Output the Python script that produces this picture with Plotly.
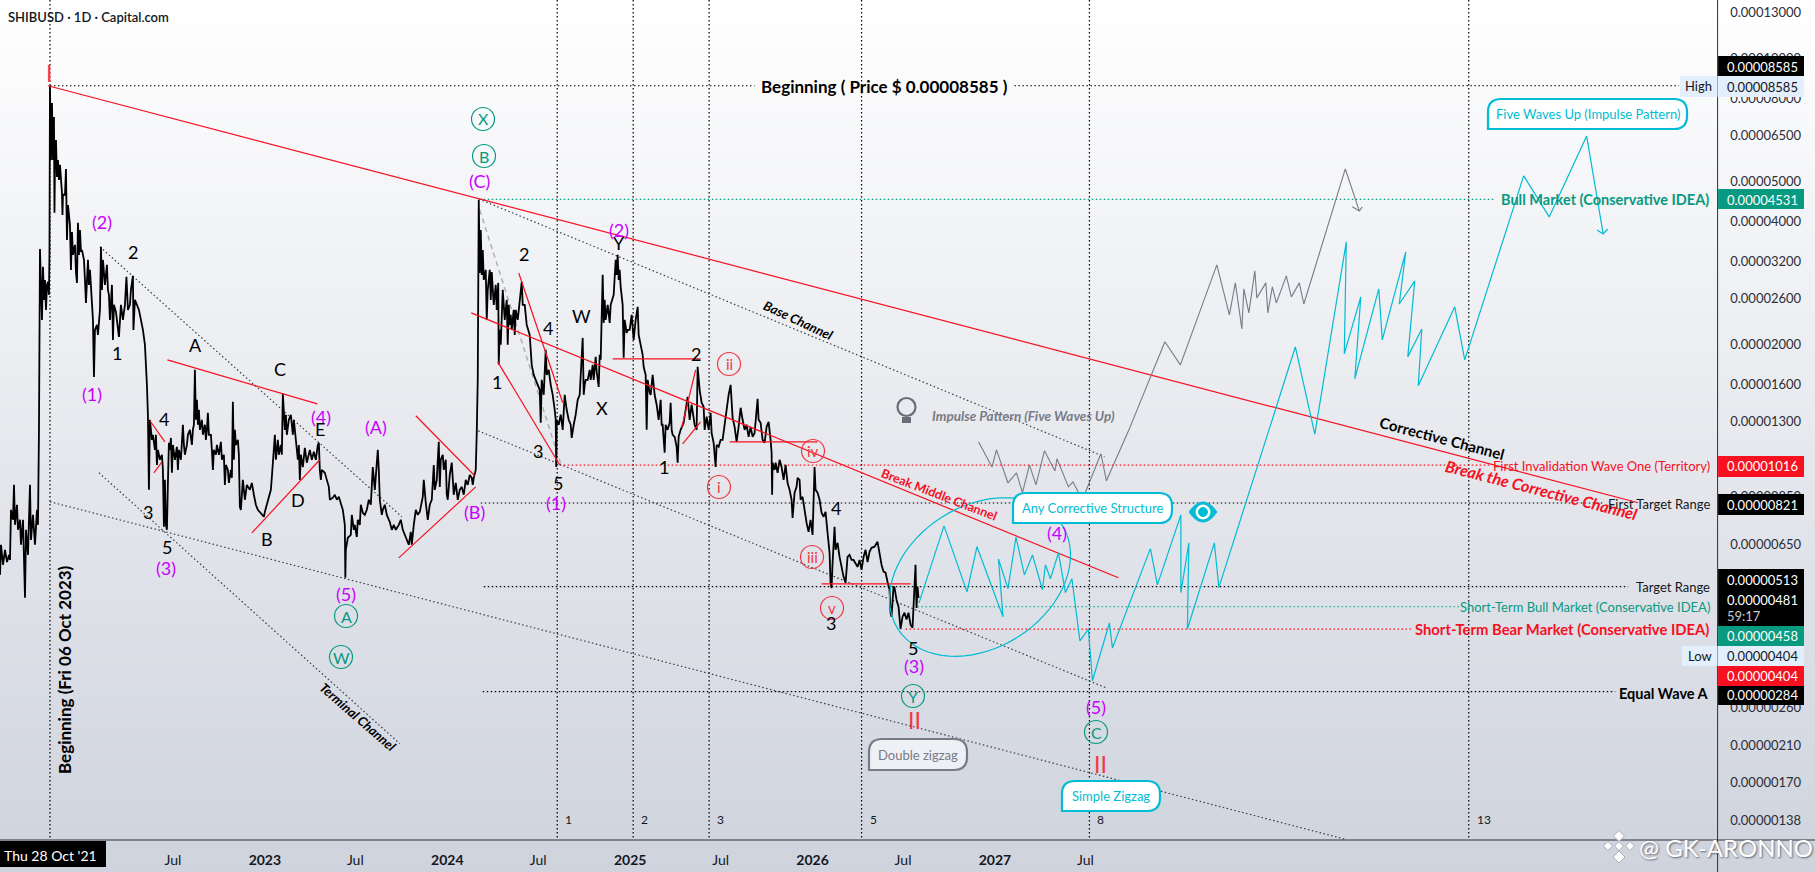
import math
import pandas as pd
import plotly.graph_objects as go

W = 1815
H = 872
AXIS_X = 1717.6
AXIS_Y = 840
BASE_DATE = pd.Timestamp("2021-07-20")
FONT = "Lato"

# daily closes/wicks: (days since BASE_DATE, price in 1e-8 USD)
rally_2021 = [(0,548),(2,649),(6,580),(10,631),(14,589),(18,613),(20,596),(22,790),(26,747),(28,909),(30,726),(34,813),
              (36,706),(40,747),(42,649),(46,747),(50,482),(52,706),(56,613),(60,909),(62,667),(66,768),(70,649),(74,790),
              (76,726),(78,1239),(80,3427),(84,2300),(86,3100),(88,2574),(90,2880),(92,2433),(94,2800),(96,2848),(98,2648),
              (99,3352),(100,8585)]
decline_2022 = [(102,5656),(104,7790),(106,5656),(108,7200),(109,4200),(110,5500),(112,6329),(114,5140),(116,5656),(118,5054),
                (120,5500),(124,4700),(125,4150),(126,4650),(130,4650),(132,5376),(134,3607),(136,4390),(140,3925),(142,3047),
                (144,3770),(146,3315),(150,3507),(152,3010),(154,2832),(156,3970),(158,3315),(160,3815),(162,3372),(164,3409),
                (168,3223),(170,2880),(172,2530),(176,3223),(178,2800),(180,3047),(182,2723),(186,2300),(188,1667),(190,2174),
                (194,2236),(196,2114),(200,2433),(202,3468),(204,2723),(206,3223),(210,2800),(214,3134),(216,2723),(218,2648),
                (220,2300),(224,2800),(226,2055),(228,2503),(232,2405),(236,2174),(238,2090),(242,2503),(246,2300),(250,2503),
                (253,2930),(256,2433),(260,2503),(262,2723),(266,2946),(267,2174),(270,2574),(274,2503),(278,2433),(282,2300),
                (286,2174),(290,2000),(292,1837),(294,1596),(296,1349),(298,884),(300,1311),(304,1171),(306,1205),(310,1107),
                (312,1205),(314,1017),(316,1107),(320,1047),(324,1077),(326,989),(328,718),(330,935),(332,726),(334,706),
                (336,919),(338,1152),(340,1107),(342,1184),(344,973),(346,1138),(350,1047),(354,1126),(356,989),(358,1107),
                (362,1047),(366,1275),(368,1138),(370,1077),(374,1138),(376,1205),(380,1239),(384,1138),(386,1239),(388,1275),
                (390,1736),(392,1311),(394,1467),(396,1275),(398,1387),(400,1239),(404,1311),(406,1205),(410,1275),(412,1171),
                (414,1239),(416,1364),(418,1205),(422,1205),(424,1107),(426,989),(428,1107),(432,1077),(434,1138),(438,1077),
                (442,1158),(444,1047),(448,1077),(450,909),(452,1017),(456,989),(458,919),(462,989),(464,946),(466,1451),
                (468,1047),(470,1239),(472,1138),(476,1171),(478,1077),(480,803)]
range_2023 = [(482,790),(486,935),(490,836),(494,909),(500,884),(504,919),(508,860),(512,813),(516,790),(524,768),(528,760),
              (530,781),(536,827),(542,884),(544,950),(548,1171),(550,1205),(552,1047),(556,1171),(558,1077),(562,1138),
              (564,1077),(566,1520),(570,1239),(572,1349),(574,1205),(578,1311),(582,1349),(586,1205),(588,1311),(592,1171),
              (594,1107),(596,1047),(598,1138),(600,935),(602,1077),(606,1005),(610,1120),(614,1030),(620,1107),(624,1047),
              (628,1095),(632,1047),(636,1138),(638,1152),(640,989),(642,935),(644,989),(650,973),(654,935),(658,899),(660,836),
              (666,846),(670,860),(674,836),(678,850),(682,813),(686,790),(690,726),(691,539),(692,631),(696,675),(702,686),
              (704,768),(708,706),(710,726),(714,678),(716,747),(720,726),(722,813),(726,777),(730,768),(734,790),(738,836),
              (742,813),(746,1005),(750,884),(754,1017),(756,1107),(758,989),(760,836),(764,768),(766,790),(770,813),(774,768),
              (780,738),(784,706),(788,726),(792,706),(798,726),(802,747),(806,706),(810,686),(814,667),(818,649),(822,698),
              (824,649),(828,726),(832,790),(836,768),(840,781),(846,850),(848,935),(852,822),(856,747),(860,813),(864,836),
              (868,1017),(870,884),(874,935),(878,1158),(880,899),(882,1047),(886,1077),(888,989),(892,1047),(894,860),(896,836),
              (900,961),(904,1030),(908,860),(912,919),(916,836),(920,884),(924,899),(928,860),(932,935),(936,909),(940,961),
              (944,946),(946,909),(948,946),(952,989),(954,1217),(956,1641)]
spike_2024 = [(958,4516),(960,2995),(962,3815),(964,2963),(966,3409),(968,2880),(972,3047),(974,2300),(976,2723),(980,3047),
              (982,2574),(984,3010),(988,2503),(992,2800),(994,2433),(997,2832),(998,1786),(1000,2174),(1002,2000),(1006,2723),
              (1010,2300),(1014,2574),(1016,2000),(1018,2503),(1020,2236),(1022,2366),(1024,2174),(1028,2433),(1030,2114),
              (1032,2433),(1036,2300),(1040,2574),(1044,2848),(1046,2503),(1050,2503),(1054,2236),(1060,2114),(1062,1943),
              (1064,1786),(1068,1688),(1072,1641),(1076,1596),(1080,1552),(1082,1289),(1084,1641),(1088,1509),(1092,1943),
              (1094,1688),(1098,1736),(1102,1596),(1106,1509),(1110,1387),(1112,1311),(1113,1005),(1114,1311),(1118,1275),
              (1122,1349),(1126,1239),(1130,1509),(1134,1387),(1138,1311),(1142,1275),(1144,1184),(1148,1275),(1152,1349),
              (1156,1467),(1160,1509),(1166,2078),(1168,1509),(1170,1596),(1172,1641),(1176,1641),(1180,1736),(1182,1641),
              (1186,1786),(1188,1641),(1192,1868),(1194,1717),(1198,1578),(1200,1890),(1202,1837)]
top_2024 = [(1206,2963),(1208,2262),(1210,2574),(1212,2300),(1216,2503),(1220,2262),(1222,2503),(1226,2603),(1228,2648),
            (1232,3223),(1234,2963),(1236,3315),(1238,2880),(1240,3047),(1242,2770),(1246,2503),(1248,1858),(1250,2300),
            (1254,2137),(1256,2174),(1260,2174),(1264,2366),(1266,2174),(1268,2055),(1272,2300),(1276,2475),(1278,2114),
            (1282,2000),(1286,1890),(1288,1766),(1292,1688),(1294,1239),(1296,1641),(1300,1526),(1302,1509),(1306,1688),
            (1310,1509),(1314,1427),(1318,1311),(1322,1467),(1324,1275),(1326,1275),(1330,1089),(1332,1275),(1336,1239),
            (1340,1289),(1342,1443),(1344,1239),(1346,1205),(1350,1191),(1354,1126),(1356,1030),(1358,1191),(1362,1239),
            (1368,1289),(1372,1387),(1376,1492),(1380,1311),(1384,1427),(1390,1275),(1394,1239),(1396,1766)]
slide_2025 = [(1400,1552),(1404,1443),(1408,1411),(1410,1239),(1414,1334),(1418,1239),(1422,1364),(1424,1217),(1428,1152),
              (1432,1005),(1434,1138),(1438,1126),(1442,1171),(1446,1171),(1450,1275),(1454,1411),(1458,1509),(1462,1596),
              (1466,1326),(1470,1260),(1474,1158),(1478,1260),(1482,1403),(1486,1311),(1490,1239),(1494,1275),(1498,1191),
              (1502,1260),(1506,1191),(1510,1217),(1516,1475),(1518,1311),(1522,1289),(1526,1171),(1530,1152),(1534,1260),
              (1538,1296),(1542,1171),(1544,1089),(1545,860),(1546,1030),(1550,989),(1552,1030),(1556,973),(1560,1047),
              (1564,1005),(1568,935),(1572,1017),(1576,919),(1580,884),(1584,836),(1586,755),(1590,870),(1594,899),(1596,946),
              (1600,935),(1602,836),(1606,850),(1610,777),(1614,734),(1618,698),(1622,747),(1626,686),(1628,790),(1630,1005),
              (1632,884),(1636,870),(1640,836),(1644,777),(1648,760),(1652,781),(1656,694),(1660,620),(1662,524),(1664,509)]
base_2026 = [(1666,586),(1670,718),(1672,631),(1676,656),(1680,606),(1684,573),(1688,542),(1692,524),(1696,606),(1700,613),
             (1704,596),(1708,596),(1712,586),(1716,573),(1720,596),(1724,564),(1728,606),(1732,631),(1736,589),(1740,624),
             (1744,638),(1750,642),(1756,660),(1760,620),(1764,580),(1768,558),(1772,555),(1776,527),(1780,504),(1782,443),
             (1784,433),(1788,513),(1790,510),(1794,476),(1798,458),(1802,404),(1806,433),(1810,443),(1814,426),(1818,443),
             (1822,414),(1826,407),(1828,476),(1832,580),(1834,455),(1836,513),(1838,481)]

# red trend lines, None splits them
red_bars = [96,3278,None,943,2238,None,335,635,None,300,330,None,308,324,None,504,640,None,798,952,None,832,950,None,
            1038,1126,None,996,1120,None,1226,1402,None,1364,1392,None,1366,1402,None,1460,1636,None,1644,1822]
red_prices = [8585,822,None,2392,539,None,1837,1434,None,1304,1158,None,973,1035,None,694,1047,None,603,899,None,1341,957,None,
              2995,1443,None,1816,1017,None,1847,1847,None,1253,1736,None,1145,1296,None,1158,1158,None,521,521]

# dotted channels
channel_bars = [958,2210,None,200,804,None,198,800,None,100,2690,None,957,2214]
channel_prices = [4540,1065,None,3468,760,None,973,212,None,827,124,None,1232,290]
swing_bars = [960,1124]
swing_prices = [4269,1005]

# horizontal levels: price, first bar, last bar
level_prices = [8585,8585,4531,1016,821,513,458,404,284]
level_starts = [100,2030,960,1120,962,968,1836,1812,966]
level_ends = [1510,3360,2988,2980,3208,3258,2922,2828,3232]
level_colors = ["#000000","#000000","#089981","#f7101f","#000000","#000000","#089981","#f7101f","#000000"]

# fibonacci time zones
fib_labels = ["1","2","3","5","8","13"]
fib_bars = [1115,1267,1419,1724,2180,2939]
date_line_bar = 100

# projected paths
cyan_bars = [1839,1889,1935,1955,2007,1998,2017,2033,2050,2066,2086,2092,2102,2118,2132,2145,2161,2178,2186,2220,2226,2302,
             2316,2363,2363,2379,2376,2430,2439,2540,2592,2631,2694,2690,2723,2711,2759,2766,2813,2800,2831,2817,2845,2838,
             2911,2931,3049,3100,3175,3208,None,3196,3208,3217]
cyan_prices = [468,722,498,642,433,599,507,678,548,613,504,580,536,620,496,536,378,404,302,418,363,635,518,768,496,656,404,
               656,510,1239,1975,1210,3567,1900,2618,1650,2738,2055,3372,2515,2864,1868,2186,1587,2475,1837,5170,4105,6470,
               3730,None,3815,3730,3835]
gray_bars = [1958,1985,1994,2017,2034,2046,2060,2073,2090,2111,2115,2138,2147,2166,2203,2214,2259,2331,2362,2435,2460,2472,
             2485,2489,2499,2511,2515,2533,2537,2546,2554,2574,2584,2600,2609,2692,2720,None,2706,2720,2726]
gray_prices = [1158,1005,1107,919,973,870,1017,909,1101,983,1053,899,924,836,1083,930,1239,2033,1786,3134,2366,2832,2186,2738,
               2392,3030,2603,2832,2392,2770,2530,2946,2618,2832,2515,5376,4245,None,4345,4245,4345]

# axes
price_ticks = [13000,10000,8000,6500,5000,4000,3200,2600,2000,1600,1300,1000,850,650,510,400,320,260,210,170,138]
date_ticks = ["2022-07-01","2023-01-01","2023-07-01","2024-01-01","2024-07-01","2025-01-01","2025-07-01","2026-01-01",
              "2026-07-01","2027-01-01","2027-07-01"]
date_tick_text = ["Jul","<b>2023</b>","Jul","<b>2024</b>","Jul","<b>2025</b>","Jul","<b>2026</b>","Jul","<b>2027</b>","Jul"]

PURPLE = "#c800ff"
GREEN = "#089981"
RED = "#f23645"
CYAN = "#00bcd4"
GRAY = "#787b86"
INK = "#131722"

purple_labels = [("(2)",102,222),("(1)",92,394),("(3)",166,568),("(4)",321,417),("(A)",376,427),("(5)",346,594),
                 ("(B)",475,512),("(C)",479,181),("(1)",556,503),("(2)",619,230),("(3)",914,666),("(4)",1057,533),
                 ("(5)",1096,707)]
black_labels = [("2",133,252),("1",117,353),("A",195,345),("C",280,369),("4",164,419),("E",320,429),("3",148,512),
                ("5",167,547),("B",267,539),("D",298,500),("2",524,254),("1",497,382),("4",548,328),("W",581,316),
                ("3",538,451),("5",558,483),("Y",619,243),("X",602,408),("2",696,354),("1",664,467),("4",836,508),
                ("3",831,623),("5",913,648)]
green_circles = [("X",483,119),("B",484,156),("A",346,616),("W",341,657),("Y",913,696),("C",1096,732)]
red_circles = [("ii",729,364),("i",719,487),("iv",813,451),("iii",812,557),("v",832,608)]
roman_labels = [("I",49,73),("II",914,720),("II",1100,764)]
# text, x, y, size, colour, bold, italic, angle, anchor
plain_labels = [
    ("Beginning ( Price $ 0.00008585 )",884,86,17,"#000000",True,False,0,"center"),
    ("Beginning (Fri 06 Oct 2023)",64,669,17,"#000000",True,False,-90,"center"),
    ("Terminal Channel",358,717,13,"#000000",True,True,41,"center"),
    ("Base Channel",798,320,13,"#000000",True,True,25,"center"),
    ("Corrective Channel",1442,438,15,"#000000",True,False,14.7,"center"),
    ("Break the Corrective Channel",1541,489,16,"#f7101f",True,True,14.4,"center"),
    ("Break Middle Channel",939,494,12.5,"#f7101f",True,False,21,"center"),
    ("Impulse Pattern (Five Waves Up)",1024,416,13.5,GRAY,True,True,0,"center"),
    ("Bull Market (Conservative IDEA)",1709,199,14.5,GREEN,True,False,0,"right"),
    ("First Invalidation Wave One (Territory)",1710,466,13,"#f7101f",False,False,0,"right"),
    ("First Target Range",1710,504,13,INK,False,False,0,"right"),
    ("Target Range",1710,587,13,INK,False,False,0,"right"),
    ("Short-Term Bull Market (Conservative IDEA)",1710,607,13,GREEN,False,False,0,"right"),
    ("Short-Term Bear Market (Conservative IDEA)",1709,629,14.8,"#f7101f",True,False,0,"right"),
    ("Equal Wave A",1709,693,14.5,"#000000",True,False,0,"right"),
]
# text, x0, y0, x1, y1, border, fill
callouts = [("Five Waves Up (Impulse Pattern)",1488,99,1687,129,CYAN,"#ffffff"),
            ("Any Corrective Structure",1013,493,1172,523,CYAN,"#ffffff"),
            ("Simple Zigzag",1062,781,1160,811,CYAN,"#ffffff"),
            ("Double zigzag",869,739,967,770,GRAY,"#eef0f5")]
# y0, y1, fill, price text, text colour
axis_tags = [(56,76,"#000000","0.00008585","#ffffff"),(76,97,"#e3effd","0.00008585",INK),(189,209,GREEN,"0.00004531","#ffffff"),
             (456,477,"#f7101f","0.00001016","#ffffff"),(494,515,"#000000","0.00000821","#ffffff"),
             (569,590,"#000000","0.00000513","#ffffff"),(590,626,"#000000","0.00000481","#ffffff"),
             (626,646,GREEN,"0.00000458","#ffffff"),(646,666,"#e3effd","0.00000404",INK),
             (666,686,"#f7101f","0.00000404","#ffffff"),(686,705,"#000000","0.00000284","#ffffff")]


def sx(px):
    return px / W


def sy(py):
    return 1 - py / H


def dates(bars):
    return [None if b is None else BASE_DATE + pd.Timedelta(days=b) for b in bars]


def usd(values):
    return [None if v is None else v / 1e8 for v in values]


def add_line(fig, bars, prices, color, width, dash="solid"):
    fig.add_trace(go.Scatter(x=dates(bars), y=usd(prices), mode="lines", showlegend=False, hoverinfo="skip",
                             line=dict(color=color, width=width, dash=dash)))


def add_text(fig, text, x, y, size, color, anchor="center", angle=0, font=FONT, **kw):
    fig.add_annotation(x=sx(x), y=sy(y), xref="paper", yref="paper", text=text, showarrow=False, textangle=angle,
                       xanchor=anchor, yanchor="middle", font=dict(family=font, size=size, color=color, **kw),
                       borderpad=0, borderwidth=0)


def rect_shape(x0, y0, x1, y1, fill):
    return dict(type="rect", xref="paper", yref="paper", x0=sx(x0), x1=sx(x1), y0=sy(y0), y1=sy(y1), fillcolor=fill,
                line_width=0, layer="above")


def circle_shape(x, y, r, line, fill="rgba(0,0,0,0)", width=1.2):
    return dict(type="circle", xref="paper", yref="paper", x0=sx(x - r), x1=sx(x + r), y0=sy(y - r), y1=sy(y + r),
                fillcolor=fill, line=dict(color=line, width=width), layer="above")


def path_shape(path, line, fill="rgba(0,0,0,0)", width=1.2):
    return dict(type="path", xref="paper", yref="paper", path=path, fillcolor=fill, line=dict(color=line, width=width),
                layer="above")


def rounded_box(x0, y0, x1, y1, r):
    p = [("M", x0 + r, y0), ("L", x1 - r, y0), ("Q", x1, y0, x1, y0 + r), ("L", x1, y1 - r), ("Q", x1, y1, x1 - r, y1),
         ("L", x0, y1), ("L", x0, y0 + r), ("Q", x0, y0, x0 + r, y0)]
    out = []
    for seg in p:
        nums = seg[1:]
        coords = [f"{sx(nums[i]):.5f},{sy(nums[i + 1]):.5f}" for i in range(0, len(nums), 2)]
        out.append(seg[0] + " ".join(coords))
    return " ".join(out) + " Z"


def rhombus(x, y, r):
    return (f"M{sx(x - r):.5f},{sy(y):.5f} L{sx(x):.5f},{sy(y - r):.5f} "
            f"L{sx(x + r):.5f},{sy(y):.5f} L{sx(x):.5f},{sy(y + r):.5f} Z")


fig = go.Figure()

shapes = []
# background gradient
steps = 87
for i in range(steps):
    t = i / (steps - 1)
    r = round(255 - (255 - 207) * t)
    g = round(255 - (255 - 211) * t)
    b = round(255 - (255 - 221) * t)
    shapes.append(dict(type="rect", xref="paper", yref="paper", x0=0, x1=1, y0=1 - (i + 1.2) / steps, y1=1 - i / steps,
                       fillcolor=f"rgb({r},{g},{b})", line_width=0, layer="below"))

# vertical fib lines and the start date line
y_span = [125, 13900]
for b in [date_line_bar] + fib_bars:
    add_line(fig, [b, b], y_span, "#000000", 1.2, "1.5px,2.5px")

for p, start, end, color in zip(level_prices, level_starts, level_ends, level_colors):
    add_line(fig, [start, end], [p, p], color, 1.2, "1.5px,2.5px")

add_line(fig, channel_bars, channel_prices, "#3a3d46", 1.2, "1.5px,2.5px")
add_line(fig, swing_bars, swing_prices, "#a9acb5", 1.4, "5px,4px")

history = rally_2021 + decline_2022 + range_2023 + spike_2024 + top_2024 + slide_2025 + base_2026
add_line(fig, [h[0] for h in history], [h[1] for h in history], "#000000", 1.8)

add_line(fig, red_bars, red_prices, "#f7101f", 1.2)
add_line(fig, gray_bars, gray_prices, GRAY, 1.1)
add_line(fig, cyan_bars, cyan_prices, CYAN, 1.2)

# ellipse round the fourth wave
cx, cy = 980, 577
points = []
for k in range(72):
    a = 2 * math.pi * k / 72
    points.append((cx + 90.5 * math.cos(a), cy - 21.9 * math.cos(a) + 76.2 * math.sin(a)))
shapes.append(path_shape("M" + " L".join(f"{sx(x):.5f},{sy(y):.5f}" for x, y in points) + " Z", CYAN, width=1.2))

# axis borders
shapes.append(dict(type="line", xref="paper", yref="paper", x0=sx(AXIS_X), x1=sx(AXIS_X), y0=0, y1=1,
                   line=dict(color="#2a2e39", width=1), layer="above"))
shapes.append(dict(type="line", xref="paper", yref="paper", x0=0, x1=1, y0=sy(AXIS_Y), y1=sy(AXIS_Y),
                   line=dict(color="#2a2e39", width=1), layer="above"))

for text, x, y in purple_labels:
    add_text(fig, text, x, y, 18, PURPLE)
for text, x, y in black_labels:
    add_text(fig, text, x, y, 18, "#000000")
for text, x, y in green_circles:
    shapes.append(circle_shape(x, y, 11.5, GREEN))
    add_text(fig, text, x, y, 16, GREEN)
for text, x, y in red_circles:
    shapes.append(circle_shape(x, y, 11.5, RED))
    add_text(fig, text, x, y, 15, RED)
for text, x, y in roman_labels:
    add_text(fig, text, x, y, 23, RED)

for text, x, y, size, color, bold, italic, angle, anchor in plain_labels:
    s = f"<b>{text}</b>" if bold else text
    s = f"<i>{s}</i>" if italic else s
    add_text(fig, s, x, y, size, color, anchor=anchor, angle=angle)

for text, x0, y0, x1, y1, border, fill in callouts:
    shapes.append(path_shape(rounded_box(x0, y0, x1, y1, 13), border, fill, 2.2))
    add_text(fig, text, (x0 + x1) / 2, (y0 + y1) / 2, 13, border)

# lightbulb
shapes.append(circle_shape(906.5, 407, 9, "#6a6d78", width=2.2))
shapes.append(rect_shape(902, 417, 911, 423, "#6a6d78"))
# eye
shapes.append(path_shape(f"M{sx(1189):.5f},{sy(512):.5f} Q{sx(1203):.5f},{sy(492):.5f} {sx(1217):.5f},{sy(512):.5f} "
                         f"Q{sx(1203):.5f},{sy(532):.5f} {sx(1189):.5f},{sy(512):.5f} Z", CYAN, CYAN, 1))
shapes.append(circle_shape(1203, 512, 7, "#ffffff", "#ffffff", 1))
shapes.append(circle_shape(1203, 512, 4.5, CYAN, CYAN, 1))

# price tags on the right
for y0, y1, fill, text, color in axis_tags:
    shapes.append(rect_shape(AXIS_X + 0.5, y0, 1804, y1, fill))
tag_rows = [67, 86.6, 200, 466, 504.7, 580, 600, 636, 656, 676, 695]
for (y0, y1, fill, text, color), y in zip(axis_tags, tag_rows):
    add_text(fig, text, 1727, y, 13, color, anchor="left")
add_text(fig, "59:17", 1727, 616, 13, "#c8cad0", anchor="left")
shapes.append(rect_shape(1680, 76, AXIS_X, 97, "#e3effd"))
shapes.append(rect_shape(1682, 646, AXIS_X, 666, "#e3effd"))
add_text(fig, "High", 1698, 86, 13, INK)
add_text(fig, "Low", 1700, 656, 13, INK)

# fib numbers
for label, b in zip(fib_labels, fib_bars):
    fig.add_annotation(x=dates([b])[0], y=sy(829), xref="x", yref="paper", text=label, showarrow=False, xanchor="left",
                       xshift=6, font=dict(family=FONT, size=12, color=INK))

# time tag
shapes.append(rect_shape(0, 841, 106, 867, "#000000"))
add_text(fig, "Thu 28 Oct '21", 50, 855, 14, "#ffffff")

add_text(fig, "SHIBUSD · 1D · Capital.com", 8, 17, 13, INK, anchor="left", weight=600)

# watermark
for x, y, r in [(1619, 836, 5.5), (1608, 846, 4.5), (1630, 846, 4.5), (1619, 846, 4.5), (1619, 857, 6)]:
    shapes.append(path_shape(rhombus(x, y, r), "#a9acb5", "#ffffff", 1))
add_text(fig, "@ GK-ARONNO", 1639, 847, 24, "#ffffff", anchor="left", shadow="1px 1px 2px #60636c")

fig.update_layout(
    width=W, height=H, margin=dict(l=0, r=0, t=0, b=0), paper_bgcolor="#ffffff", plot_bgcolor="rgba(0,0,0,0)",
    showlegend=False, shapes=shapes,
    xaxis=dict(type="date", domain=[0, AXIS_X / W], anchor="y", side="bottom",
               range=[BASE_DATE, BASE_DATE + pd.Timedelta(days=3437)], showgrid=False, zeroline=False, showline=False,
               tickmode="array", tickvals=date_ticks, ticktext=date_tick_text, ticks="outside", ticklen=7,
               tickcolor="rgba(0,0,0,0)", tickfont=dict(family=FONT, size=14, color=INK), automargin=False),
    yaxis=dict(type="log", domain=[1 - AXIS_Y / H, 1], anchor="x", side="right",
               range=[math.log10(123.3e-8), math.log10(13908e-8)], showgrid=False, zeroline=False, showline=False,
               tickmode="array", tickvals=[v / 1e8 for v in price_ticks], ticktext=[f"{v / 1e8:.8f}" for v in price_ticks],
               ticks="outside", ticklen=9, tickcolor="rgba(0,0,0,0)", tickfont=dict(family=FONT, size=13, color="#2a2e39"),
               automargin=False),
)

fig.write_html("out.html", config=dict(displayModeBar=False),
               post_script="document.body.style.margin='0';document.body.style.overflow='hidden';")
